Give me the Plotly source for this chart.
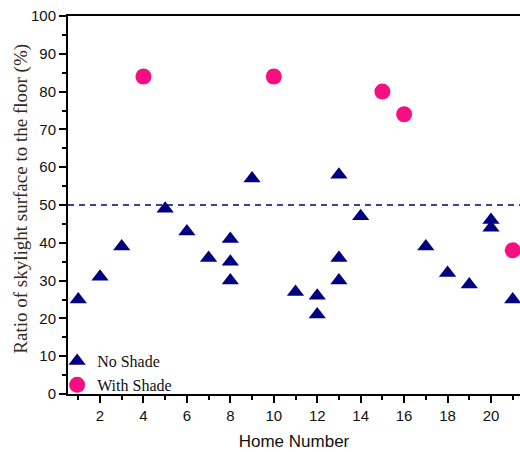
import plotly.graph_objects as go

# Data
no_shade_home = [1, 2, 3, 5, 6, 7, 8, 8, 8, 9, 11, 12, 12, 13, 13, 13, 14, 17, 18, 19, 20, 20, 21]
no_shade_ratio = [25, 31, 39, 49, 43, 36, 41, 35, 30, 57, 27, 26, 21, 58, 36, 30, 47, 39, 32, 29, 46, 44, 25]
with_shade_home = [4, 10, 15, 16, 21]
with_shade_ratio = [84, 84, 80, 74, 38]
threshold = 50
x_ticks = [2, 4, 6, 8, 10, 12, 14, 16, 18, 20]
y_ticks = [0, 10, 20, 30, 40, 50, 60, 70, 80, 90, 100]

navy = "#000080"
pink = "#F70F82"

fig = go.Figure()
fig.add_trace(go.Scatter(
    x=no_shade_home, y=no_shade_ratio, mode="markers", name="No Shade",
    marker=dict(symbol="triangle-up", size=15, color=navy, line=dict(width=0)),
    cliponaxis=False,
))
fig.add_trace(go.Scatter(
    x=with_shade_home, y=with_shade_ratio, mode="markers", name="With Shade",
    marker=dict(symbol="circle", size=16, color=pink, line=dict(width=0)),
    cliponaxis=False,
))
fig.add_shape(type="line", xref="paper", x0=0, x1=1, yref="y", y0=threshold, y1=threshold,
              line=dict(color=navy, width=1.5, dash="6px,5px"), layer="below")

fig.add_annotation(
    text="Ratio of skylight surface to the floor (%)", textangle=-90,
    xref="paper", yref="paper", x=-0.106, y=0.517, xanchor="center", yanchor="middle",
    showarrow=False, font=dict(family="Liberation Serif", size=19, color="#332b22"),
)

fig.update_layout(
    width=520, height=452,
    margin=dict(l=68, r=0, t=16, b=58, autoexpand=False),
    plot_bgcolor="white", paper_bgcolor="white",
    showlegend=True,
    legend=dict(x=-0.024, y=0.132, xanchor="left", yanchor="top",
                bgcolor="rgba(0,0,0,0)", font=dict(family="Liberation Serif", size=16, color="#111"),
                itemsizing="trace", tracegroupgap=0),
    font=dict(family="Liberation Sans", size=15, color="#111"),
)
fig.update_xaxes(
    range=[0.527, 21.335], tickvals=x_ticks, showgrid=False, zeroline=False, automargin=False,
    showline=True, linecolor="black", linewidth=2, mirror=True,
    ticks="outside", ticklen=7, tickwidth=1.5, tickcolor="black",
    minor=dict(dtick=1, tick0=1, ticks="outside", ticklen=4, tickwidth=1.5, tickcolor="black", showgrid=False),
    title=dict(text="Home Number", font=dict(family="Liberation Sans", size=17, color="#111"), standoff=12),
    tickfont=dict(size=15),
)
fig.update_yaxes(
    range=[0, 100], tickvals=y_ticks, showgrid=False, zeroline=False, automargin=False,
    showline=True, linecolor="black", linewidth=2,
    ticks="outside", ticklen=7, tickwidth=1.5, tickcolor="black",
    minor=dict(dtick=5, tick0=0, ticks="outside", ticklen=4, tickwidth=1.5, tickcolor="black", showgrid=False),
    tickfont=dict(size=15),
)

fig.write_html("out.html", config={"displayModeBar": False},
               post_script="document.body.style.margin='0';document.body.style.overflow='hidden';")
